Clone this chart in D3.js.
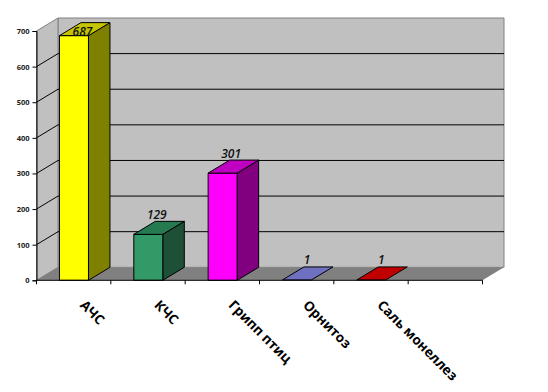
<!DOCTYPE html>
<html><head><meta charset="utf-8">
<style>html,body{margin:0;padding:0;background:#fff}svg{display:block}</style>
<script src="https://cdn.jsdelivr.net/npm/d3@7"></script></head><body>
<svg id="c" width="548" height="392"></svg>
<script>
const categories=["АЧС","КЧС","Грипп птиц","Орнитоз","Саль монеллез",""];
const values=[687,129,301,1,1,null];
const frontColors=["#FFFF00","#339966","#FF00FF","#8080C8","#C00000",null];
const topColors=["#C4C400","#267A52","#C000C0","#7070C0","#C00000",null];
const sideColors=["#808000","#1E5038","#800080","#505090","#800000",null];
const yTicks=[0,100,200,300,400,500,600,700];

const svg=d3.select("#c");
const dx=21.5,dy=-13;
const x=d3.scaleBand().domain(d3.range(categories.length)).range([36.5,482.5]).paddingInner(0).paddingOuter(0);
const y=d3.scaleLinear().domain([0,700]).range([280.3,31]);
const x0=36.5,x1=482.5,y0=y(0),yT=y(700);
const poly=p=>p.map(d=>d.join(",")).join(" ");

svg.append("polygon").attr("points",poly([[x0+dx,yT+dy],[x1+dx,yT+dy],[x1+dx,y0+dy],[x0+dx,y0+dy]])).attr("fill","#C0C0C0").attr("stroke","#808080").attr("stroke-width",1);
svg.append("polygon").attr("points",poly([[x0,yT],[x0+dx,yT+dy],[x0+dx,y0+dy],[x0,y0]])).attr("fill","#C0C0C0").attr("stroke","#808080").attr("stroke-width",1);
svg.append("polygon").attr("points",poly([[x0,y0],[x1,y0],[x1+dx,y0+dy],[x0+dx,y0+dy]])).attr("fill","#808080");

yTicks.filter(t=>t>0&&t<700).forEach(t=>{
  svg.append("polyline").attr("points",poly([[x0,y(t)],[x0+dx,y(t)+dy],[x1+dx,y(t)+dy]])).attr("fill","none").attr("stroke","#000").attr("stroke-width",1);
});

const barW=29;
categories.forEach((c,i)=>{
  if(values[i]==null)return;
  const l=x(i)+(x.bandwidth()-barW)/2+0.3,r=l+barW,b=y0,t=y(values[i]);
  const add=(pts,f)=>svg.append("polygon").attr("points",poly(pts)).attr("fill",f).attr("stroke","#000").attr("stroke-width",1);
  if(b-t>2){
    add([[r,b],[r+dx,b+dy],[r+dx,t+dy],[r,t]],sideColors[i]);
    add([[l,t],[r,t],[r,b],[l,b]],frontColors[i]);
  }
  add([[l,t],[l+dx,t+dy],[r+dx,t+dy],[r,t]],topColors[i]);
  svg.append("text").attr("x",(l+r)/2+(values[i]>1?8.5:10)).attr("y",t+dy+(values[i]==687?13:values[i]>1?-2:-3)).attr("text-anchor","middle")
    .attr("font-family","'Open Sans'").attr("font-style","italic").attr("font-weight",600).attr("font-size",12).attr("fill","#111").text(values[i]);
});

const ax=svg.append("g").attr("transform",`translate(${x0},0)`).call(d3.axisLeft(y).tickValues(yTicks).tickSize(4).tickPadding(3));
ax.select(".domain").attr("stroke","#000");
ax.selectAll("text").attr("font-family","'Open Sans'").attr("font-size",7.5).attr("font-weight",700).attr("fill","#222");

const bx=svg.append("g").attr("transform",`translate(0,${y0})`);
const xTickPos=d3.range(categories.length).map(i=>x(i)).concat([x1]);
bx.append("line").attr("x1",x0).attr("x2",x1).attr("stroke","#000");
bx.selectAll("line.t").data(xTickPos).join("line").attr("class","t").attr("x1",d=>d).attr("x2",d=>d).attr("y1",0).attr("y2",4).attr("stroke","#000");
categories.forEach((c,i)=>{
  if(!c)return;
  const px=x(i)+x.bandwidth()/2+5.5, py=306;
  svg.append("text").attr("transform",`translate(${px},${py}) rotate(45)`).attr("font-family","'Open Sans'").attr("font-weight",700).attr("font-size",13.5).attr("fill","#000").text(c);
});
</script></body></html>
